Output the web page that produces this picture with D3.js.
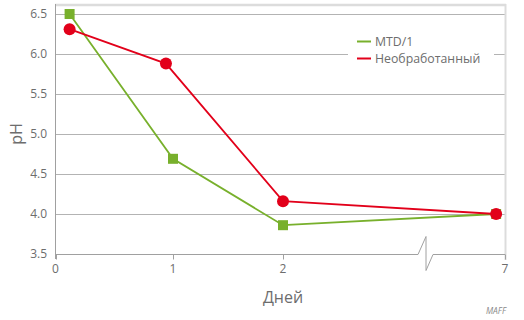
<!DOCTYPE html>
<html>
<head>
<meta charset="utf-8">
<script src="https://cdn.jsdelivr.net/npm/d3@7"></script>
<style>
  body { margin: 0; background: #fff; }
  text { font-family: "Open Sans", "DejaVu Sans", sans-serif; }
</style>
</head>
<body>
<svg id="chart" width="524" height="320"></svg>
<script>
// tick labels
const yTicks = [3.5, 4.0, 4.5, 5.0, 5.5, 6.0, 6.5]
const xTicks = [0, 1, 2, 7]

// series (day, pH)
const mtdDays = [0.12, 1.0, 2.0, 6.8]
const mtdPh = [6.5, 4.69, 3.86, 4.0]
const rawDays = [0.12, 0.94, 2.0, 6.8]
const rawPh = [6.31, 5.88, 4.16, 4.0]

const seriesNames = ["MTD/1", "Необработанный"]
const green = "#78b02c", red = "#e2001a"

const svg = d3.select("#chart")

// x axis is broken between 2 and 7, so piecewise
const x = d3.scaleLinear().domain([0, 1, 2, 7]).range([55.5, 173, 283, 505])
const y = d3.scaleLinear().domain([3.5, 6.5]).range([254, 14])

// gridlines
svg.append("g")
    .selectAll("line")
    .data(yTicks.slice(1))
    .enter().append("line")
    .attr("x1", 55.5).attr("x2", 505)
    .attr("y1", d => Math.round(y(d)) + 0.5)
    .attr("y2", d => Math.round(y(d)) + 0.5)
    .style("stroke", "#b3b3b3")
    .style("stroke-width", 1)

// frame: light top and right border
svg.append("line").attr("x1", 55).attr("x2", 506).attr("y1", 5).attr("y2", 5)
    .style("stroke", "#dcdcdc").style("stroke-width", 2.5)
svg.append("line").attr("x1", 505.5).attr("x2", 505.5).attr("y1", 4).attr("y2", 260)
    .style("stroke", "#dcdcdc").style("stroke-width", 2)

// left axis
svg.append("line").attr("x1", 55.5).attr("x2", 55.5).attr("y1", 4).attr("y2", 259)
    .style("stroke", "#a0a0a0")

// bottom axis with break
const yb = Math.round(y(3.5)) + 0.5
svg.append("path")
    .attr("d", `M55.5,${yb} H418 L426,${yb - 18} V${yb + 16} L433,${yb} H505`)
    .style("fill", "none")
    .style("stroke", "#a0a0a0")

// y tick labels
svg.append("g")
    .selectAll("text")
    .data(yTicks)
    .enter().append("text")
    .attr("x", 47)
    .attr("y", d => y(d) + 4)
    .attr("text-anchor", "end")
    .style("font-size", "12px")
    .style("fill", "#6d6d6d")
    .text(d => d.toFixed(1))

// x ticks
svg.append("g")
    .selectAll("line")
    .data(xTicks)
    .enter().append("line")
    .attr("x1", d => Math.round(x(d)) + 0.5).attr("x2", d => Math.round(x(d)) + 0.5)
    .attr("y1", yb).attr("y2", yb + 5)
    .style("stroke", "#a0a0a0")
svg.append("g")
    .selectAll("text")
    .data(xTicks)
    .enter().append("text")
    .attr("x", d => x(d))
    .attr("y", 273)
    .attr("text-anchor", "middle")
    .style("font-size", "12px")
    .style("fill", "#6d6d6d")
    .text(d => d)

// axis titles
svg.append("text")
    .attr("transform", "translate(22,134) rotate(-90)")
    .attr("text-anchor", "middle")
    .style("font-size", "16px")
    .style("fill", "#6d6d6d")
    .text("pH")
svg.append("text")
    .attr("x", 283).attr("y", 303)
    .attr("text-anchor", "middle")
    .style("font-size", "16px")
    .style("fill", "#6d6d6d")
    .text("Дней")
svg.append("text")
    .attr("x", 506).attr("y", 314)
    .attr("text-anchor", "end")
    .style("font-size", "8.5px")
    .style("font-style", "italic")
    .style("fill", "#8a8a8a")
    .text("MAFF")

// lines
const line = d3.line().x(d => x(d[0])).y(d => y(d[1]))
const mtd = d3.zip(mtdDays, mtdPh)
const raw = d3.zip(rawDays, rawPh)

svg.append("path").datum(mtd).attr("d", line)
    .style("fill", "none").style("stroke", green).style("stroke-width", 1.8)
svg.append("path").datum(raw).attr("d", line)
    .style("fill", "none").style("stroke", red).style("stroke-width", 1.8)

// markers
svg.append("g").selectAll("rect")
    .data(mtd)
    .enter().append("rect")
    .attr("x", d => x(d[0]) - 5).attr("y", d => y(d[1]) - 5)
    .attr("width", 10).attr("height", 10)
    .style("fill", green)
svg.append("g").selectAll("circle")
    .data(raw)
    .enter().append("circle")
    .attr("cx", d => x(d[0])).attr("cy", d => y(d[1]))
    .attr("r", 6)
    .style("fill", red)

// legend
const legend = svg.append("g")
legend.append("rect").attr("x", 348).attr("y", 30).attr("width", 146).attr("height", 40)
    .style("fill", "#fff")
legend.selectAll("line.key")
    .data(seriesNames)
    .enter().append("line")
    .attr("x1", 357).attr("x2", 371)
    .attr("y1", (d, i) => 41.5 + i * 17).attr("y2", (d, i) => 41.5 + i * 17)
    .style("stroke", (d, i) => i == 0 ? green : red)
    .style("stroke-width", 2)
legend.selectAll("text")
    .data(seriesNames)
    .enter().append("text")
    .attr("x", 375)
    .attr("y", (d, i) => 45.5 + i * 17)
    .style("font-size", "12.3px")
    .style("fill", "#6d6d6d")
    .text(d => d)
</script>
</body>
</html>
